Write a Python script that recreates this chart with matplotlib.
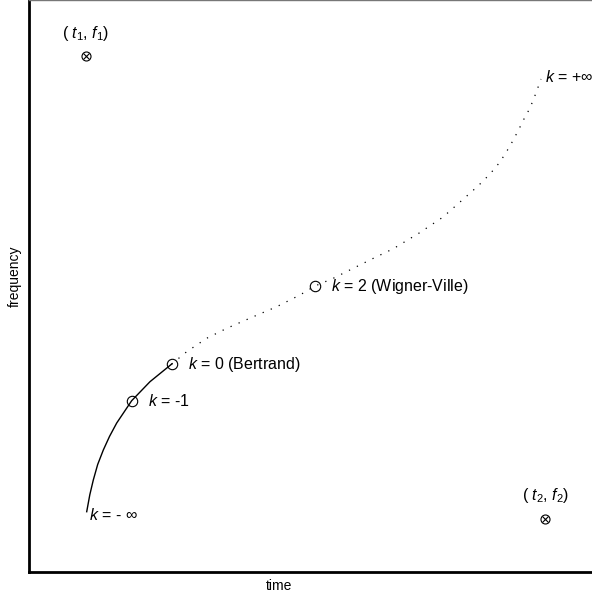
import matplotlib
matplotlib.use('Agg')
import matplotlib.pyplot as plt

plt.rcParams['font.family'] = ['Liberation Sans', 'DejaVu Sans']
plt.rcParams['mathtext.fontset'] = 'custom'
plt.rcParams['mathtext.it'] = 'Liberation Sans:italic'
plt.rcParams['mathtext.rm'] = 'Liberation Sans'

# signal components (time, frequency)
comp_t = [0.101, 0.917]
comp_f = [0.902, 0.093]
comp_labels = [r'( $t_1$, $f_1$)', r'( $t_2$, $f_2$)']

# interference location for k from -inf to 0 (solid)
solid_t = [0.1025, 0.108, 0.1142, 0.122, 0.132, 0.143, 0.1558, 0.1824,
           0.2149, 0.2535]
solid_f = [0.1054, 0.135, 0.1608, 0.188, 0.2133, 0.237, 0.2605, 0.2995,
           0.3327, 0.3636]

# interference location for k from 0 to +inf (dotted)
dot_t = [0.2535, 0.2801, 0.3156, 0.3512, 0.3984, 0.44, 0.4813, 0.508, 0.5405,
         0.576, 0.6116, 0.6471, 0.6922, 0.7348, 0.7696, 0.7975, 0.8188,
         0.8366, 0.8544, 0.8686, 0.8792, 0.8899, 0.9005, 0.9094]
dot_f = [0.3636, 0.3851, 0.4086, 0.426, 0.4463, 0.4638, 0.4843, 0.5, 0.5135,
         0.531, 0.5484, 0.5652, 0.5921, 0.6201, 0.6503, 0.6748, 0.6958,
         0.7168, 0.7448, 0.771, 0.792, 0.8112, 0.8374, 0.8619]

# marked k values
k_t = [0.1824, 0.2535, 0.508]
k_f = [0.2995, 0.3636, 0.5]
k_labels = [r'$k$ = -1', r'$k$ = 0 (Bertrand)', r'$k$ = 2 (Wigner-Ville)']

fig = plt.figure(figsize=(5.92, 5.99), dpi=100)
ax = fig.add_axes([29 / 592, 27 / 599, 1 - 29 / 592, 572 / 599])

ax.plot(solid_t, solid_f, color='black', linewidth=1.0)
ax.plot(dot_t, dot_f, color='black', linewidth=0.9, linestyle=(0, (1, 6)))
ax.plot(k_t, k_f, 'o', mfc='none', mec='black', ms=7.5, mew=0.8)

ax.plot(comp_t, comp_f, 'o', mfc='none', mec='black', ms=6.5, mew=0.8)
ax.plot(comp_t, comp_f, 'x', color='black', ms=4.5, mew=0.8)

for t, f, lab in zip(comp_t, comp_f, comp_labels):
    ax.text(t, f + 0.04, lab, ha='center', va='center', fontsize=11.5)

for t, f, lab in zip(k_t, k_f, k_labels):
    ax.text(t + 0.029, f, lab, ha='left', va='center', fontsize=11.5)

ax.text(solid_t[0] + 0.004, solid_f[0] - 0.006, r'$k$ = - $\infty$',
        ha='left', va='center', fontsize=11.5)
ax.text(dot_t[-1] + 0.007, dot_f[-1] + 0.003, r'$k$ = +$\infty$',
        ha='left', va='center', fontsize=11.5)

ax.set_xlim(0, 1)
ax.set_ylim(0, 1)
ax.set_xticks([])
ax.set_yticks([])
ax.set_xlabel('time', fontsize=10, labelpad=7)
ax.xaxis.set_label_coords(0.444, -0.012, transform=ax.transAxes)
ax.xaxis.label.set_va('top')
ax.set_ylabel('frequency', fontsize=10)
ax.yaxis.set_label_coords(-0.013, 0.517, transform=ax.transAxes)

ax.spines['left'].set_linewidth(2)
ax.spines['bottom'].set_linewidth(2)
ax.spines['top'].set_linewidth(1)
ax.spines['top'].set_color('#777777')
ax.spines['right'].set_visible(False)

fig.savefig('out.png', dpi=100)
